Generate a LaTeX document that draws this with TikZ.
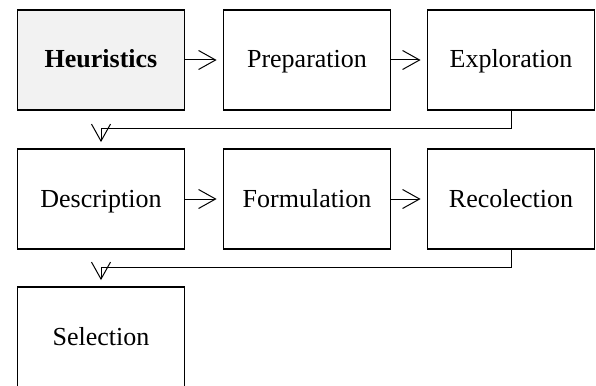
\documentclass[tikz,border=0pt]{standalone}
\usepackage{fontspec}
\setmainfont{Liberation Serif}
\usetikzlibrary{arrows.meta}
\definecolor{hfill}{HTML}{F2F2F2}
\begin{document}
\begin{tikzpicture}[x=1pt,y=1pt,
  stagebox/.style={draw=black, line width=1.8pt, fill=white, minimum width=167pt, minimum height=100pt, inner sep=0pt, text height=19.5pt, text depth=3.5pt, font=\fontsize{26}{30}\selectfont},
  flow/.style={line width=1pt, -{Straight Barb[length=17pt,width=19pt,line width=1pt]}, shorten >=6pt}
]
\useasboundingbox (0,0) rectangle (596,-385);
\node[stagebox, fill=hfill, font=\fontsize{26}{30}\selectfont\bfseries] (heu) at (101,-60) {Heuristics};
\node[stagebox] (prep) at (307,-60) {Preparation};
\node[stagebox] (expl) at (511,-60) {Exploration};
\node[stagebox] (desc) at (101,-199) {Description};
\node[stagebox] (form) at (307,-199) {Formulation};
\node[stagebox] (reco) at (511,-199) {Recolection};
\node[stagebox] (sel) at (101,-337) {Selection};
\coordinate (t1) at (511,-128.5);
\coordinate (t2) at (511,-267.5);
\draw[flow] (heu.east) -- (prep.west);
\draw[flow] (prep.east) -- (expl.west);
\draw[flow] (desc.east) -- (form.west);
\draw[flow] (form.east) -- (reco.west);
\draw[flow] (expl.south) -- (t1) -| (desc.north);
\draw[flow] (reco.south) -- (t2) -| (sel.north);
\end{tikzpicture}
\end{document}
